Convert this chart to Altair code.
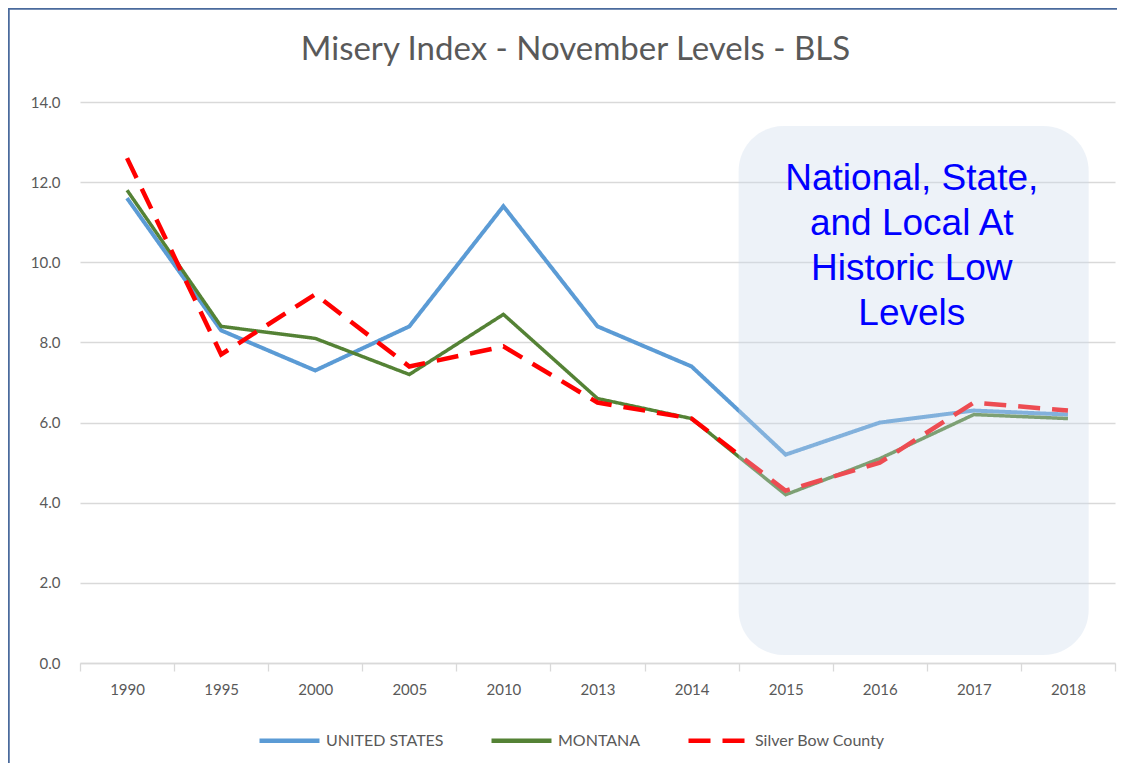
import altair as alt
import pandas as pd

years = ["1990", "1995", "2000", "2005", "2010", "2013", "2014", "2015", "2016", "2017", "2018"]
us = [11.6, 8.3, 7.3, 8.4, 11.4, 8.4, 7.4, 5.2, 6.0, 6.3, 6.2]
mt = [11.8, 8.4, 8.1, 7.2, 8.7, 6.6, 6.1, 4.2, 5.1, 6.2, 6.1]
sb = [12.6, 7.7, 9.2, 7.4, 7.9, 6.5, 6.1, 4.3, 5.0, 6.5, 6.3]
series = ["UNITED STATES", "MONTANA", "Silver Bow County"]
colors = ["#5b9bd5", "#548235", "#ff0000"]
dashes = [[1, 0], [1, 0], [22, 12]]
widths = [4, 3.5, 4.5]

rows = []
for name, vals in zip(series, [us, mt, sb]):
    for y, v in zip(years, vals):
        rows.append({"year": y, "value": v, "series": name})
df = pd.DataFrame(rows)

box_df = pd.DataFrame({"x0": ["2015"], "x1": ["2018"], "y0": [0.2], "y1": [13.4]})
note_df = pd.DataFrame({"x": ["2016"], "y": [11.8],
                        "text": ["National, State,\nand Local At\nHistoric Low\nLevels"]})
frame_df = pd.DataFrame({"a": [0]})

FONT = "Lato"
GREY = "#595959"

x_enc = alt.X("year:N", sort=years,
              scale=alt.Scale(domain=years, paddingInner=0, paddingOuter=0),
              axis=alt.Axis(title=None, labelAngle=0, tickBand="extent", ticks=True,
                            tickSize=8, tickColor="#d9d9d9", tickWidth=1.3,
                            domainColor="#d9d9d9", domainWidth=1.3,
                            labelPadding=11, labelFontSize=15, labelColor=GREY,
                            labelFont=FONT, grid=False))
y_enc = alt.Y("value:Q", scale=alt.Scale(domain=[0, 14], nice=False),
              axis=alt.Axis(title=None, values=[0, 2, 4, 6, 8, 10, 12, 14], format=".1f",
                            grid=True, gridColor="#d9d9d9", gridWidth=1.3,
                            domain=False, ticks=False, labelPadding=20,
                            labelFontSize=15, labelColor=GREY, labelFont=FONT))

legend = alt.Legend(title=None, orient="none", legendX=177, legendY=606,
                    direction="horizontal", symbolType="stroke", symbolSize=3600,
                    symbolStrokeWidth=4.5, columnPadding=38, labelOffset=4,
                    labelFontSize=16, labelColor=GREY, labelFont=FONT)
color_enc = alt.Color("series:N", scale=alt.Scale(domain=series, range=colors), legend=legend)
dash_enc = alt.StrokeDash("series:N", scale=alt.Scale(domain=series, range=dashes), legend=legend)

base = alt.Chart(df)
layers = []
for s, w in zip(series, widths):
    layers.append(
        base.transform_filter(alt.datum.series == s)
        .mark_line(strokeWidth=w)
        .encode(x=x_enc, y=y_enc, color=color_enc, strokeDash=dash_enc)
    )

box = alt.Chart(box_df).mark_rect(cornerRadius=45, fill="#cbd9ec", opacity=0.35).encode(
    x=alt.X("x0:N", bandPosition=0),
    x2=alt.X2("x1", bandPosition=0.72),
    y=alt.Y("y0:Q"),
    y2=alt.Y2("y1"),
)

note = alt.Chart(note_df).mark_text(
    font="Liberation Sans", fontSize=37, color="#0000ff", align="center",
    baseline="alphabetic", lineBreak="\n", lineHeight=45, dx=32
).encode(x=alt.X("x:N"), y=alt.Y("y:Q"), text="text:N")

frame_left = alt.Chart(frame_df).mark_rule(stroke="#4a6a9c", strokeWidth=2.5).encode(
    x=alt.value(-71.5), y=alt.value(-93.5), y2=alt.value(661))
frame_top = alt.Chart(frame_df).mark_rule(stroke="#4a6a9c", strokeWidth=2.5).encode(
    x=alt.value(-72.5), x2=alt.value(1037), y=alt.value(-93.5))

chart = alt.layer(*layers, box, note, frame_left, frame_top).properties(
    width=1035, height=561,
    title=alt.Title("Misery Index - November Levels - BLS", font=FONT, fontSize=33,
                    fontWeight="normal", color=GREY, anchor="middle", frame="group",
                    baseline="alphabetic", dx=-22, offset=-85.75),
    autosize=alt.AutoSizeParams(type="none"),
    padding={"left": 72, "top": 94, "right": 2, "bottom": 100},
).configure_view(strokeWidth=0)

chart.save("out.html", embed_options={"renderer": "svg", "actions": False})
